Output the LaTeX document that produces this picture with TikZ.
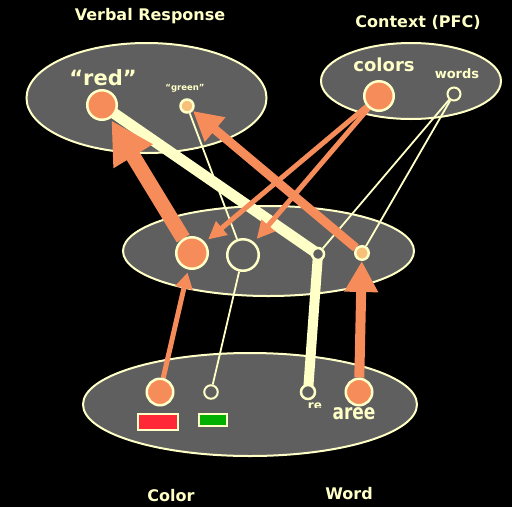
\documentclass[tikz,border=0pt]{standalone}
\usepackage{fontspec}
\setmainfont{DejaVu Sans}
\usetikzlibrary{arrows.meta,shapes.geometric}
\definecolor{cream}{RGB}{255,255,200}
\definecolor{slate}{RGB}{95,95,95}
\definecolor{salmon}{RGB}{246,140,90}
\definecolor{peach}{RGB}{246,192,122}
\definecolor{swatchred}{RGB}{255,40,55}
\definecolor{swatchgreen}{RGB}{0,175,0}
\pgfdeclarelayer{ground}
\pgfdeclarelayer{pools}
\pgfdeclarelayer{wires}
\pgfsetlayers{ground,pools,wires,main}
\tikzset{
  pool/.style={ellipse, draw=cream, fill=slate, line width=2pt, inner sep=0pt},
  unit/.style={circle, draw=cream, line width=2.5pt, inner sep=0pt},
  bigunit/.style={unit, fill=salmon},
  dimunit/.style={unit, fill=slate},
  title/.style={text=cream, font=\bfseries\fontsize{16}{16}\selectfont},
  lbl/.style={text=cream, font=\bfseries},
  thickwire/.style={draw=cream, line width=11pt},
  thinwire/.style={draw=cream, line width=1.8pt},
  push/.style={draw=salmon, fill=salmon},
  swatch/.style={draw=cream, line width=1.5pt, inner sep=0pt}
}
\begin{document}
\begin{tikzpicture}[x=1pt,y=-1pt]
\begin{pgfonlayer}{ground}
\fill[black] (0,0) rectangle (512,507);
\end{pgfonlayer}
\useasboundingbox (0,0) rectangle (512,507);

% group pools
\begin{pgfonlayer}{pools}
\node[pool, minimum width=240pt, minimum height=110pt] (vr) at (146.5,98) {};
\node[pool, minimum width=180pt, minimum height=76pt] (ctx) at (411,81) {};
\node[pool, minimum width=291pt, minimum height=90pt] (hid) at (268.5,251) {};
\node[pool, minimum width=334pt, minimum height=103pt] (inp) at (250,404.5) {};
\end{pgfonlayer}

% titles
\node[title] (tvr) at (150,16) {Verbal Response};
\node[title] (tctx) at (418,22) {Context (PFC)};
\node[title] (tcol) at (171,496) {Color};
\node[title] (twrd) at (349,494) {Word};

% response units
\node[bigunit, minimum size=29.5pt] (r1) at (102,105) {};
\node[unit, fill=peach, minimum size=13pt] (gn) at (187,106) {};
\node[lbl, font=\bfseries\fontsize{21}{21}\selectfont] (tred) at (103,78) {“red”};
\node[lbl, font=\bfseries\fontsize{8.5}{8.5}\selectfont] (tgreen) at (185,88) {“green”};

% context units
\node[bigunit, minimum size=29.5pt] (cc) at (379,96) {};
\node[dimunit, line width=2pt, minimum size=13pt] (cw) at (454,94) {};
\node[lbl, font=\bfseries\fontsize{18}{18}\selectfont] (tcolors) at (384,65) {colors};
\node[lbl, font=\bfseries\fontsize{13}{13}\selectfont] (twords) at (457,74) {words};

% hidden units
\node[bigunit, minimum size=31.5pt] (m1) at (192,253) {};
\node[dimunit, minimum size=31.5pt] (m2) at (243,255) {};
\node[dimunit, minimum size=12pt] (ms) at (318,254) {};
\node[unit, fill=peach, minimum size=13.5pt] (mo) at (362,253) {};

% input units
\node[bigunit, minimum size=26.5pt] (b1) at (160,392) {};
\node[dimunit, line width=2pt, minimum size=13.5pt] (b2) at (211,392) {};
\node[dimunit, minimum size=14pt] (b3) at (308,392) {};
\node[bigunit, minimum size=26.5pt] (b4) at (359,392) {};
\node[swatch, fill=swatchred, minimum width=40pt, minimum height=16pt] (sr) at (158,422) {};
\node[swatch, fill=swatchgreen, minimum width=28pt, minimum height=12pt] (sg) at (213,420) {};
\begin{scope}
  \clip (290,400) rectangle (340,407.5);
  \node[lbl, font=\bfseries\fontsize{12}{12}\selectfont, anchor=north] (tre) at (315,399) {re};
\end{scope}
\node[lbl, font=\bfseries\fontsize{17}{17}\selectfont] (taree) at (354,414) {\scalebox{1}[1.25]{aree}};

% connections
\begin{pgfonlayer}{wires}
\draw[thickwire] (r1.center) -- (ms.center);
\draw[draw=cream, line width=10pt] (ms.center) -- (b3.center);
\draw[thinwire] (gn) -- (m2);
\draw[thinwire] (m2) -- (b2);
\draw[thinwire] (cw) -- (ms);
\draw[thinwire] (cw) -- (mo);

\draw[push, line width=5pt, -{Triangle[length=18pt,width=17pt]}, shorten >=4pt] (cc) -- (m1);
\draw[push, line width=5pt, -{Triangle[length=18pt,width=17pt]}, shorten >=4pt] (cc) -- (m2);
\draw[push, line width=15pt, -{Triangle[length=42pt,width=43pt]}, shorten >=2pt] (m1) -- (r1);
\draw[push, line width=9pt, -{Triangle[length=29pt,width=30pt]}] (mo) -- (gn);
\draw[push, line width=5pt, -{Triangle[length=16pt,width=17pt]}, shorten >=3pt] (b1) -- (m1);
\draw[push, line width=10pt, -{Triangle[length=31pt,width=32pt]}] (b4) -- (mo);
\end{pgfonlayer}
\end{tikzpicture}
\end{document}
